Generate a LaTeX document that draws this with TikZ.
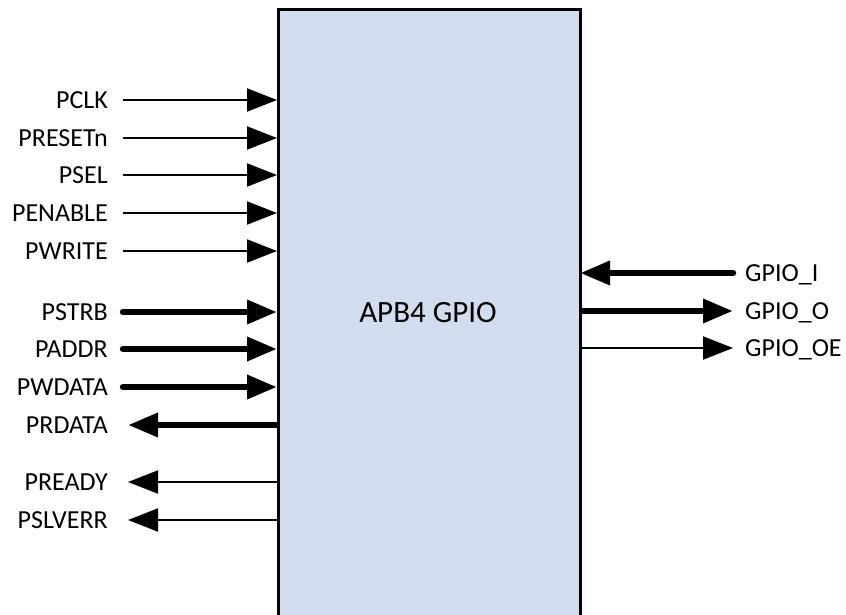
\documentclass[tikz,border=0pt]{standalone}
\usepackage{fontspec}
\setmainfont{Carlito}
\usepackage{tikz}
\usetikzlibrary{positioning,calc,arrows.meta}
\definecolor{blockfill}{RGB}{210,222,239}
\tikzset{
	sig/.style={font=\fontsize{26}{31}\selectfont, inner sep=0pt, text height=16.5pt, text depth=0pt},
	thinwire/.style={line width=2pt},
	buswire/.style={line width=6.5pt, line cap=round},
	tip/.style={-{Triangle[length=30pt, width=23pt]}}
}
% input on the left side: name, y, label
\newcommand{\insig}[4][thinwire]{
	\node [sig, anchor=east] (#2) at (108, #3) {#4};
	\coordinate (#2 pin) at (277, #3);
	\draw [#1, tip] ([xshift=15pt]#2.east) -- (#2 pin);
}
% output on the left side
\newcommand{\outsig}[4][thinwire]{
	\node [sig, anchor=east] (#2) at (108, #3) {#4};
	\coordinate (#2 pin) at (277, #3);
	\draw [#1, tip, line cap=butt] (#2 pin) -- ([xshift=20pt]#2.east);
}

\begin{document}
\begin{tikzpicture}[x=1pt, y=-1pt]
		\useasboundingbox (0, 0) rectangle (846, 614);
		\node [draw, fill=blockfill, line width=2.5pt, anchor=north west,
			minimum width=302pt, minimum height=640pt] (gpio) at (277, 8) {};
		\node [font=\fontsize{31}{36}\selectfont] (title) at (428, 313) {APB4 GPIO};
		\insig{pclk}{100}{PCLK}
		\insig{presetn}{138}{PRESETn}
		\insig{psel}{175}{PSEL}
		\insig{penable}{213}{PENABLE}
		\insig{pwrite}{251}{PWRITE}
		\insig[buswire]{pstrb}{312}{PSTRB}
		\insig[buswire]{paddr}{349}{PADDR}
		\insig[buswire]{pwdata}{387}{PWDATA}
		\outsig[buswire]{prdata}{425}{PRDATA}
		\outsig{pready}{482}{PREADY}
		\outsig{pslverr}{520}{PSLVERR}
		% gpio side
		\node [sig, anchor=west] (gpioi) at (745, 273) {GPIO\_I};
		\node [sig, anchor=west] (gpioo) at (745, 311) {GPIO\_O};
		\node [sig, anchor=west] (gpiooe) at (745, 348) {GPIO\_OE};
		\coordinate (gpioi pin) at (580, 273);
		\coordinate (gpioo pin) at (579, 311);
		\coordinate (gpiooe pin) at (579, 348);
		\draw [buswire, tip] ([xshift=-12pt]gpioi.west) -- (gpioi pin);
		\draw [buswire, line cap=butt, tip] (gpioo pin) -- ([xshift=-12pt]gpioo.west);
		\draw [thinwire, tip] (gpiooe pin) -- ([xshift=-12pt]gpiooe.west);
\end{tikzpicture}
\end{document}
